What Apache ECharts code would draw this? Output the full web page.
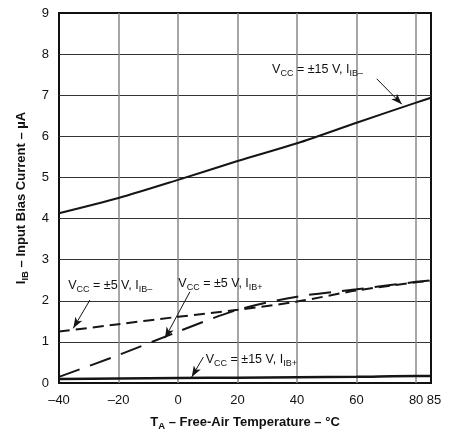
<!DOCTYPE html>
<html>
<head>
<meta charset="utf-8">
<script src="https://cdn.jsdelivr.net/npm/echarts@6/dist/echarts.min.js"></script>
<style>
html, body { margin: 0; padding: 0; background: #fff; }
#main { width: 451px; height: 431px; }
</style>
</head>
<body>
<div id="main"></div>
<script>
var temps = [-40, -20, 0, 20, 40, 60, 80, 85];
var ib15Minus = [4.13, 4.5, 4.94, 5.4, 5.83, 6.33, 6.82, 6.94];
var ib15Plus = [0.1, 0.11, 0.12, 0.13, 0.14, 0.15, 0.17, 0.17];
var ib5Minus = [1.25, 1.43, 1.61, 1.78, 1.98, 2.25, 2.45, 2.48];
var ib5Plus = [0.15, 0.68, 1.25, 1.78, 2.1, 2.28, 2.46, 2.5];

// annotation text anchors [x, y] and arrows [[x1, y1], [x2, y2]]
var labels = [
    { at: [31.6, 7.62], text: '{m|V}{s|CC}{m| = ±15 V, I}{s|IB–}' },
    { at: [-36.9, 2.36], text: '{m|V}{s|CC}{m| = ±5 V, I}{s|IB–}' },
    { at: [0.1, 2.43], text: '{m|V}{s|CC}{m| = ±5 V, I}{s|IB+}' },
    { at: [9.3, 0.58], text: '{m|V}{s|CC}{m| = ±15 V, I}{s|IB+}' }
];
var arrows = [
    [[66.75, 7.40], [75.2, 6.78]],
    [[-29.6, 2.02], [-35.2, 1.33]],
    [[4.0, 2.22], [-4.4, 1.09]],
    [[8.5, 0.63], [4.6, 0.146]]
];

var FONT = "'Liberation Sans', Arial, Helvetica, sans-serif";
var richText = {
    m: { fontSize: 12.5, color: '#111', fontFamily: FONT },
    s: { fontSize: 9, color: '#111', fontFamily: FONT, padding: [8, 0, 0, 0] }
};
var titleRich = {
    b: { fontSize: 13, fontWeight: 'bold', color: '#111', fontFamily: FONT },
    bs: { fontSize: 9.5, fontWeight: 'bold', color: '#111', fontFamily: FONT, padding: [7, 0, 0, 0] }
};

function pairs(ys) {
    return temps.map(function (t, i) { return [t, ys[i]]; });
}

var myChart = echarts.init(document.getElementById('main'));

var option = {
    animation: false,
    backgroundColor: '#fff',
    grid: {
        left: 59, top: 13, width: 372, height: 370,
        outerBoundsMode: 'none',
        containLabel: false,
        show: true,
        borderColor: '#111',
        borderWidth: 2,
        backgroundColor: '#fff'
    },
    xAxis: {
        type: 'value',
        min: -40, max: 85, interval: 20,
        name: '{b|T}{bs|A}{b| – Free-Air Temperature – °C}',
        nameLocation: 'middle',
        nameGap: 31,
        nameTextStyle: { rich: titleRich },
        axisLine: { show: false },
        axisTick: { show: false },
        axisLabel: {
            margin: 11,
            fontSize: 13,
            color: '#111',
            fontFamily: FONT,
            formatter: function (v) {
                if (v === 85) return '{r|85}';
                return String(v).replace('-', '–');
            },
            rich: { r: { fontSize: 13, color: '#111', fontFamily: FONT, padding: [0, 0, 0, 6] } }
        },
        splitLine: {
            show: true, showMinLine: false, showMaxLine: false,
            lineStyle: { color: '#888', width: 1.5 }
        }
    },
    yAxis: {
        type: 'value',
        min: 0, max: 9, interval: 1,
        name: '{b|I}{bs|IB}{b| – Input Bias Current – µA}',
        nameLocation: 'middle',
        nameGap: 29,
        nameTextStyle: { rich: titleRich },
        axisLine: { show: false },
        axisTick: { show: false },
        axisLabel: { margin: 10, fontSize: 13, color: '#111', fontFamily: FONT },
        splitLine: {
            show: true, showMinLine: false, showMaxLine: false,
            lineStyle: { color: '#333', width: 1 }
        }
    },
    series: [
        {
            name: 'VCC=±15V IIB-',
            type: 'line',
            data: pairs(ib15Minus),
            smooth: 0.3,
            symbol: 'none',
            lineStyle: { color: '#151515', width: 2 },
            markPoint: {
                symbol: 'circle',
                symbolSize: 0,
                label: {
                    show: true, position: 'right', distance: 0,
                    formatter: function (p) { return p.data.text; },
                    rich: richText
                },
                data: labels.map(function (l) { return { coord: l.at, text: l.text }; })
            },
            markLine: {
                silent: true,
                symbol: ['none', 'arrow'],
                symbolSize: [6, 11],
                label: { show: false },
                lineStyle: { color: '#151515', width: 1, type: 'solid' },
                data: arrows.map(function (a) { return [{ coord: a[0] }, { coord: a[1] }]; })
            }
        },
        {
            name: 'VCC=±15V IIB+',
            type: 'line',
            data: pairs(ib15Plus),
            smooth: 0.3,
            symbol: 'none',
            lineStyle: { color: '#151515', width: 2.5 }
        },
        {
            name: 'VCC=±5V IIB-',
            type: 'line',
            data: pairs(ib5Minus),
            smooth: 0.3,
            symbol: 'none',
            lineStyle: { color: '#151515', width: 2, type: [11, 6] }
        },
        {
            name: 'VCC=±5V IIB+',
            type: 'line',
            data: pairs(ib5Plus),
            smooth: 0.3,
            symbol: 'none',
            lineStyle: { color: '#151515', width: 2, type: [22, 11] }
        }
    ]
};

myChart.setOption(option);
</script>
</body>
</html>
